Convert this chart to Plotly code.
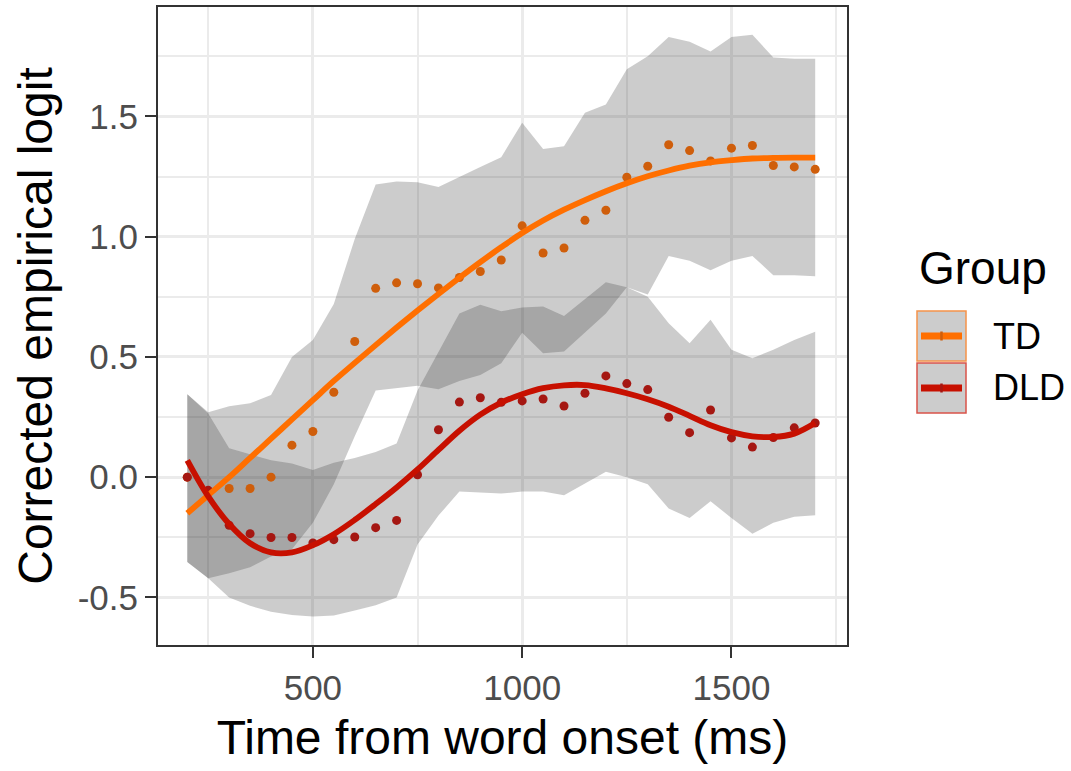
import plotly.graph_objects as go

# ---------------- data ----------------
time_ms = list(range(200, 1701, 50))

td_points = [0.0, -0.06, -0.047, -0.047, 0.0, 0.133, 0.19, 0.353, 0.564, 0.785,
             0.808, 0.804, 0.787, 0.83, 0.855, 0.903, 1.045, 0.932, 0.953, 1.068,
             1.11, 1.247, 1.293, 1.382, 1.358, 1.315, 1.368, 1.379, 1.296, 1.29,
             1.28]
dld_points = [0.0, -0.055, -0.2, -0.235, -0.251, -0.251, -0.274, -0.26, -0.249, -0.21,
              -0.18, 0.01, 0.197, 0.312, 0.33, 0.311, 0.317, 0.325, 0.296, 0.349,
              0.421, 0.389, 0.364, 0.249, 0.185, 0.279, 0.163, 0.125, 0.165, 0.205,
              0.225]

td_fit = [-0.15, -0.075, 0.0, 0.08, 0.16, 0.24, 0.32, 0.40, 0.475, 0.549,
          0.622, 0.693, 0.762, 0.829, 0.894, 0.956, 1.015, 1.067, 1.112, 1.152,
          1.189, 1.222, 1.251, 1.275, 1.295, 1.309, 1.318, 1.325, 1.328, 1.329,
          1.329]
dld_fit = [0.07, -0.08, -0.195, -0.275, -0.313, -0.313, -0.283, -0.237, -0.178, -0.112,
           -0.043, 0.032, 0.113, 0.193, 0.26, 0.31, 0.345, 0.37, 0.382, 0.383,
           0.369, 0.349, 0.324, 0.293, 0.255, 0.216, 0.187, 0.17, 0.167, 0.181,
           0.225]

td_lo = [-0.353, -0.42, -0.40, -0.375, -0.33, -0.30, -0.19, -0.03, 0.17, 0.36,
         0.37, 0.38, 0.365, 0.40, 0.425, 0.474, 0.60, 0.515, 0.522, 0.60,
         0.68, 0.79, 0.76, 0.92, 0.90, 0.86, 0.90, 0.92, 0.84, 0.84,
         0.835]
td_hi = [0.345, 0.27, 0.295, 0.307, 0.342, 0.50, 0.57, 0.72, 0.99, 1.217,
         1.229, 1.226, 1.207, 1.25, 1.29, 1.33, 1.474, 1.365, 1.376, 1.515,
         1.55, 1.696, 1.75, 1.83, 1.81, 1.77, 1.83, 1.84, 1.745, 1.74,
         1.74]
dld_lo = [-0.353, -0.42, -0.50, -0.535, -0.56, -0.573, -0.58, -0.575, -0.555, -0.533,
          -0.50, -0.28, -0.16, -0.06, -0.065, -0.068, -0.06, -0.06, -0.075, -0.026,
          0.022, 0.0, -0.03, -0.13, -0.17, -0.10, -0.17, -0.235, -0.19, -0.165,
          -0.158]
dld_hi = [0.345, 0.265, 0.12, 0.095, 0.07, 0.057, 0.03, 0.06, 0.08, 0.105,
          0.14, 0.36, 0.52, 0.68, 0.717, 0.69, 0.705, 0.71, 0.67, 0.74,
          0.81, 0.79, 0.75, 0.64, 0.557, 0.654, 0.53, 0.494, 0.53, 0.57,
          0.605]

groups = ["TD", "DLD"]
y_ticks = [-0.5, 0.0, 0.5, 1.0, 1.5]
y_ticktext = ["-0.5", "0.0", "0.5", "1.0", "1.5"]
y_minor = [-0.25, 0.25, 0.75, 1.25, 1.75]
x_ticks = [500, 1000, 1500]
x_minor = [250, 750, 1250, 1750]

# ---------------- styles ----------------
line_col = {"TD": "#FF6F00", "DLD": "#C71000"}
pt_col = {"TD": "#CF5E0B", "DLD": "#A51712"}
key_border = {"TD": "#F5934A", "DLD": "#D9534A"}
ribbon_fill = "rgba(51,51,51,0.25)"
FONT = "Liberation Sans, Arial, sans-serif"
GRID = "#EBEBEB"

fig = go.Figure()

ribbons = {"TD": (td_lo, td_hi), "DLD": (dld_lo, dld_hi)}
for g in groups:
    lo, hi = ribbons[g]
    fig.add_trace(go.Scatter(
        x=time_ms + time_ms[::-1], y=hi + lo[::-1],
        fill="toself", fillcolor=ribbon_fill, line=dict(width=0),
        mode="lines", hoverinfo="skip", showlegend=False))

pts = {"TD": td_points, "DLD": dld_points}
for g in groups:
    fig.add_trace(go.Scatter(
        x=time_ms, y=pts[g], mode="markers",
        marker=dict(size=9, color=pt_col[g], line=dict(width=0)),
        showlegend=False, name=g))

fits = {"TD": td_fit, "DLD": dld_fit}
for g in groups:
    fig.add_trace(go.Scatter(
        x=time_ms, y=fits[g], mode="lines",
        line=dict(color=line_col[g], width=5.8, shape="spline", smoothing=1.0),
        showlegend=False, name=g))

# panel geometry in pixels (for legend placement)
L, R, T, B = 158, 847, 7, 645
W, H = 1071, 771


def px(xp):
    return (xp - L) / (R - L)


def py(yp):
    return (B - yp) / (B - T)


shapes = []
annotations = []
annotations.append(dict(text="Group", x=px(917), y=py(268), xref="paper", yref="paper",
                        xanchor="left", yanchor="middle", showarrow=False,
                        font=dict(size=46, color="black", family=FONT)))
key_rows = [("TD", 311, 361), ("DLD", 363, 413)]
for g, y0, y1 in key_rows:
    shapes.append(dict(type="rect", xref="paper", yref="paper",
                       x0=px(917), x1=px(966), y0=py(y1), y1=py(y0),
                       fillcolor="#CCCCCC",
                       line=dict(color=key_border[g], width=1.5), opacity=1))
    ym = (y0 + y1) / 2
    shapes.append(dict(type="line", xref="paper", yref="paper",
                       x0=px(921), x1=px(962), y0=py(ym), y1=py(ym),
                       line=dict(color=line_col[g], width=7)))
    shapes.append(dict(type="line", xref="paper", yref="paper",
                       x0=px(941.5), x1=px(941.5), y0=py(ym - 4.5), y1=py(ym + 4.5),
                       line=dict(color=pt_col[g], width=2.5)))
    annotations.append(dict(text=g, x=px(991), y=py(ym), xref="paper", yref="paper",
                            xanchor="left", yanchor="middle", showarrow=False,
                            font=dict(size=36, color="black", family=FONT)))

fig.update_layout(
    width=W, height=H,
    margin=dict(l=L, r=W - R, t=T, b=H - B, autoexpand=False),
    paper_bgcolor="white", plot_bgcolor="white",
    font=dict(family=FONT, color="#4D4D4D"),
    showlegend=False,
    shapes=shapes, annotations=annotations,
)
fig.update_xaxes(
    range=[130, 1776], tickvals=x_ticks, ticktext=[str(v) for v in x_ticks],
    showgrid=True, gridcolor=GRID, gridwidth=3.2,
    minor=dict(tickvals=x_minor, showgrid=True, gridcolor=GRID, gridwidth=2, ticks=""),
    zeroline=False, showline=True, mirror=True, linecolor="#333333", linewidth=2,
    ticks="outside", ticklen=11, tickwidth=2, tickcolor="#333333",
    tickfont=dict(size=35, color="#4D4D4D", family=FONT),
    title=dict(text="Time from word onset (ms)", font=dict(size=48, color="black", family=FONT),
               standoff=14),
)
fig.update_yaxes(
    range=[-0.698, 1.955], tickvals=y_ticks, ticktext=y_ticktext,
    showgrid=True, gridcolor=GRID, gridwidth=3.2,
    minor=dict(tickvals=y_minor, showgrid=True, gridcolor=GRID, gridwidth=2, ticks=""),
    zeroline=False, showline=True, mirror=True, linecolor="#333333", linewidth=2,
    ticks="outside", ticklen=11, tickwidth=2, tickcolor="#333333",
    tickfont=dict(size=35, color="#4D4D4D", family=FONT),
    title=dict(text="Corrected empirical logit", font=dict(size=48, color="black", family=FONT),
               standoff=10),
)

fig.write_html("out.html")
